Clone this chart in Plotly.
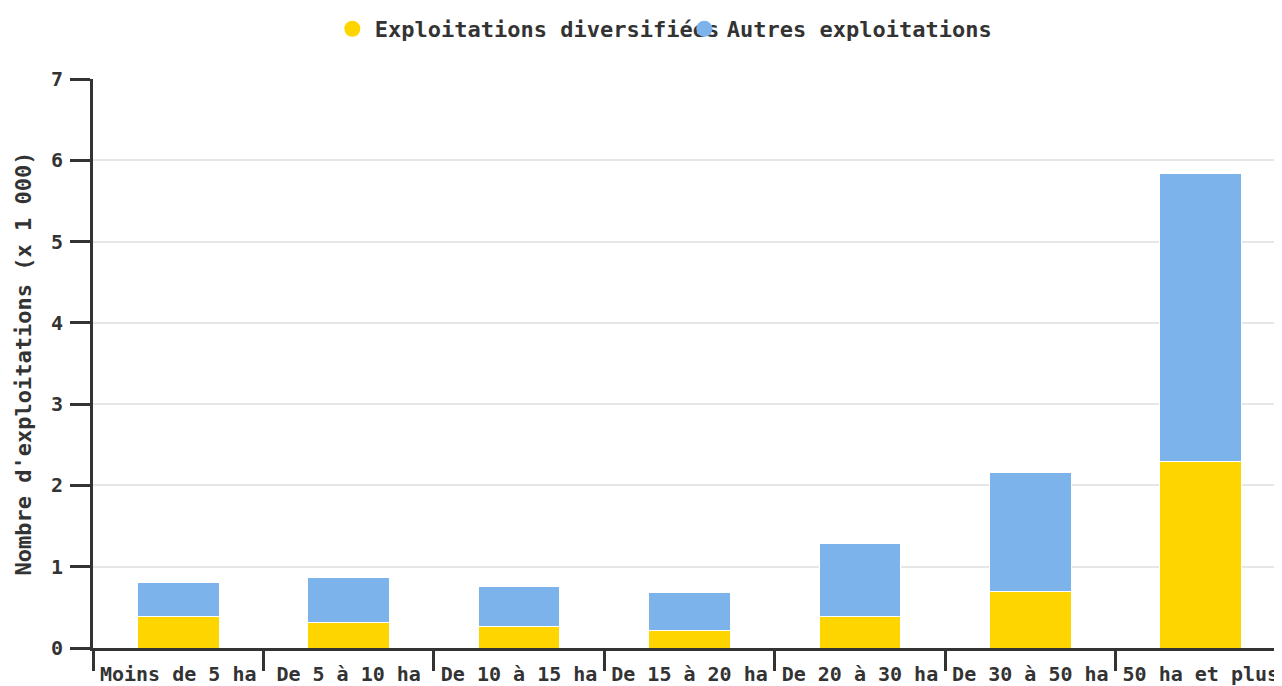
import plotly.graph_objects as go

categories = ["Moins de 5 ha", "De 5 à 10 ha", "De 10 à 15 ha", "De 15 à 20 ha",
              "De 20 à 30 ha", "De 30 à 50 ha", "50 ha et plus"]
diversifiees = [0.39, 0.31, 0.26, 0.21, 0.39, 0.69, 2.29]
autres = [0.42, 0.56, 0.50, 0.47, 0.89, 1.47, 3.55]
series_names = ["Exploitations diversifiées", "Autres exploitations"]
y_ticks = [0, 1, 2, 3, 4, 5, 6, 7]
y_title = "Nombre d'exploitations (x 1 000)"

YELLOW = "#FFD500"
BLUE = "#7CB3EA"
TXT = "#333333"
FONT = "DejaVu Sans Mono"

fig = go.Figure()
fig.add_trace(go.Bar(x=categories, y=diversifiees, name=series_names[0],
                     marker=dict(color=YELLOW, line=dict(color="white", width=1)),
                     width=0.48, showlegend=False))
fig.add_trace(go.Bar(x=categories, y=autres, name=series_names[1],
                     marker=dict(color=BLUE, line=dict(color="white", width=1)),
                     width=0.48, showlegend=False))
for nm, col in zip(series_names, [YELLOW, BLUE]):
    fig.add_trace(go.Scatter(x=[None], y=[None], mode="markers", name=nm,
                             marker=dict(color=col, size=16, symbol="circle")))

fig.update_layout(
    barmode="stack",
    width=1278, height=678,
    margin=dict(l=85, r=0, t=71, b=38, autoexpand=False),
    paper_bgcolor="white", plot_bgcolor="white",
    font=dict(family=FONT, color=TXT, size=20, weight="bold"),
    legend=dict(orientation="h", traceorder="normal", itemwidth=35,
                x=0.1985, xanchor="left", y=1.088, yanchor="middle",
                entrywidth=302, font=dict(size=22, family=FONT, color=TXT, weight="bold"),
                bgcolor="rgba(0,0,0,0)"),
    showlegend=True,
)
fig.update_xaxes(showline=True, linecolor=TXT, linewidth=3, ticks="outside",
                 tickson="boundaries", ticklen=20, tickwidth=3, tickcolor=TXT,
                 showgrid=False, ticklabelstandoff=6, automargin=False,
                 tickfont=dict(size=20, family=FONT, color=TXT, weight="bold"))
fig.update_yaxes(range=[0, 7], tickvals=y_ticks, showline=True, linecolor=TXT, linewidth=3,
                 ticks="outside", ticklen=20, tickwidth=3, tickcolor=TXT,
                 showgrid=True, gridcolor="#e6e6e6", gridwidth=1.5, zeroline=False,
                 ticklabelstandoff=3, automargin=False,
                 tickfont=dict(size=20, family=FONT, color=TXT, weight="bold"),
                 title=dict(text=y_title, standoff=14,
                            font=dict(size=22, family=FONT, color=TXT, weight="bold")))

fig.write_html("out.html")
